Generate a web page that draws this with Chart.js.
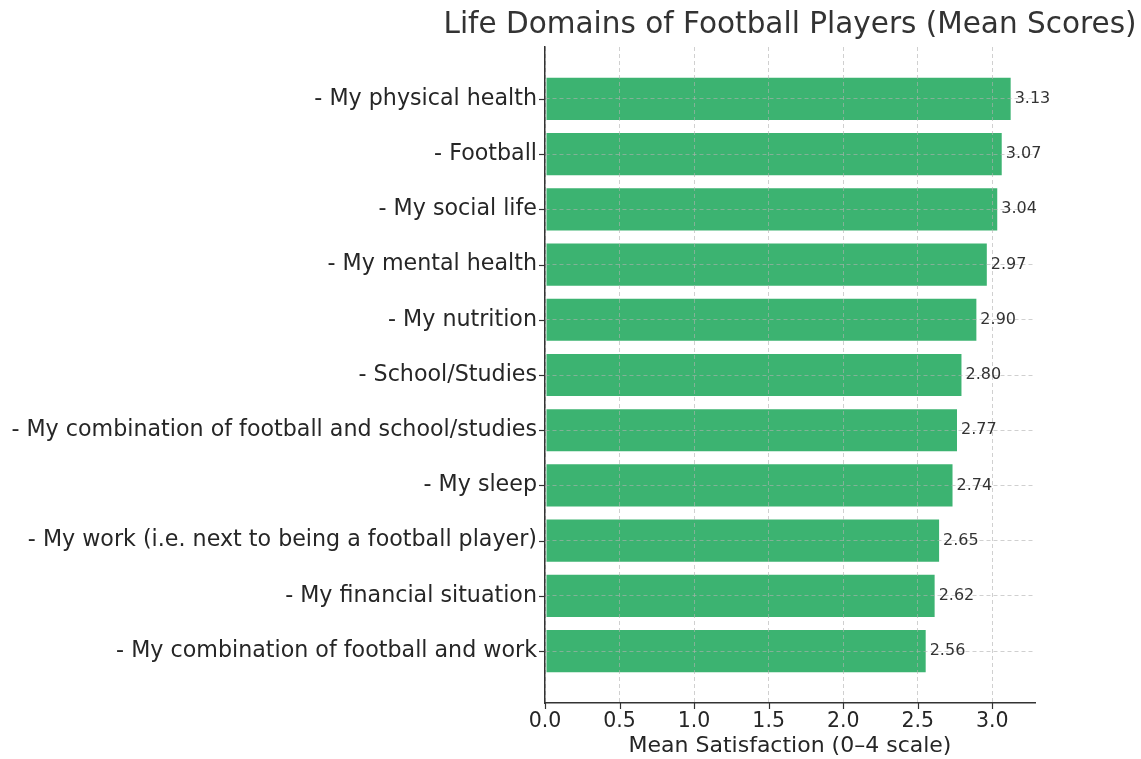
<!DOCTYPE html>
<html>
<head>
<meta charset="utf-8">
<script src="https://cdn.jsdelivr.net/npm/chart.js@4"></script>
<style>
html,body{margin:0;padding:0;background:#fff;}
#wrap{width:1141px;height:759px;position:relative;}
</style>
</head>
<body>
<div id="wrap"><canvas id="c" width="1141" height="759"></canvas></div>
<script>
const categories = [
  "- My physical health",
  "- Football",
  "- My social life",
  "- My mental health",
  "- My nutrition",
  "- School/Studies",
  "- My combination of football and school/studies",
  "- My sleep",
  "- My work (i.e. next to being a football player)",
  "- My financial situation",
  "- My combination of football and work"
];
const meanScores = [3.13, 3.07, 3.04, 2.97, 2.90, 2.80, 2.77, 2.74, 2.65, 2.62, 2.56];
const xTickValues = [0, 0.5, 1.0, 1.5, 2.0, 2.5, 3.0];
const titleText = "Life Domains of Football Players (Mean Scores)";
const xTitleText = "Mean Satisfaction (0\u20134 scale)";

const FONT = "'DejaVu Sans', sans-serif";
const TXT = "#262626";

const extras = {
  id: 'extras',
  afterDraw(chart) {
    const ctx = chart.ctx;
    const xs = chart.scales.x, ys = chart.scales.y;
    const ca = chart.chartArea;
    ctx.save();
    ctx.strokeStyle = '#333';
    ctx.lineWidth = 1.2;
    ctx.setLineDash([]);
    xTickValues.forEach(v => {
      const px = Math.round(xs.getPixelForValue(v)) + 0.5;
      ctx.beginPath(); ctx.moveTo(px, ca.bottom); ctx.lineTo(px, ca.bottom + 6); ctx.stroke();
    });
    categories.forEach((_, i) => {
      const py = Math.round(ys.getPixelForValue(i)) + 0.5;
      ctx.beginPath(); ctx.moveTo(ca.left, py); ctx.lineTo(ca.left - 6, py); ctx.stroke();
    });
    ctx.fillStyle = '#333';
    ctx.font = "16px " + FONT;
    ctx.textAlign = 'left';
    ctx.textBaseline = 'middle';
    meanScores.forEach((v, i) => {
      ctx.fillText(v.toFixed(2), xs.getPixelForValue(v) + 3, ys.getPixelForValue(i));
    });
    ctx.fillStyle = '#333';
    ctx.font = "29.5px " + FONT;
    ctx.textAlign = 'center';
    ctx.textBaseline = 'middle';
    ctx.fillText(titleText, (ca.left + ca.right) / 2, 25);
    ctx.restore();
  }
};

new Chart(document.getElementById('c'), {
  type: 'bar',
  data: {
    datasets: [{
      data: meanScores.map((v, i) => ({ x: v, y: i })),
      backgroundColor: '#3cb371',
      borderColor: 'rgba(255,255,255,0.35)',
      borderWidth: 1,
      borderSkipped: false,
      categoryPercentage: 1.0,
      barPercentage: 0.8
    }]
  },
  plugins: [extras],
  options: {
    indexAxis: 'y',
    responsive: false,
    animation: false,
    layout: { padding: { top: 47, right: 106, left: 0, bottom: 0 } },
    plugins: { legend: { display: false }, tooltip: { enabled: false }, title: { display: false } },
    scales: {
      x: {
        type: 'linear',
        min: 0,
        max: 3.2865,
        offset: false,
        afterBuildTicks: s => { s.ticks = xTickValues.map(v => ({ value: v })); },
        afterFit: s => { s.height = 56; },
        grid: { color: 'rgba(176,176,176,0.6)', lineWidth: 1, drawTicks: false, offset: false, z: 1 },
        border: { display: true, color: '#333', width: 1.5, dash: [4, 3], z: 2 },
        ticks: { color: TXT, font: { family: FONT, size: 20.5 }, padding: 6, callback: v => Number(v).toFixed(1) },
        title: { display: true, text: xTitleText, color: TXT, font: { family: FONT, size: 22 }, padding: { top: 0, bottom: 0 } }
      },
      y: {
        type: 'linear',
        reverse: true,
        min: -0.94,
        max: 10.94,
        offset: false,
        afterBuildTicks: s => { s.ticks = categories.map((_, i) => ({ value: i })); },
        afterFit: s => { s.width = 545; },
        grid: { color: 'rgba(176,176,176,0.6)', lineWidth: 1, drawTicks: false, offset: false, z: 1 },
        border: { display: true, color: '#333', width: 1.5, dash: [4, 3], z: 2 },
        ticks: { color: TXT, font: { family: FONT, size: 22.2 }, padding: 8, callback: v => categories[v] }
      }
    }
  }
});
</script>
</body>
</html>
